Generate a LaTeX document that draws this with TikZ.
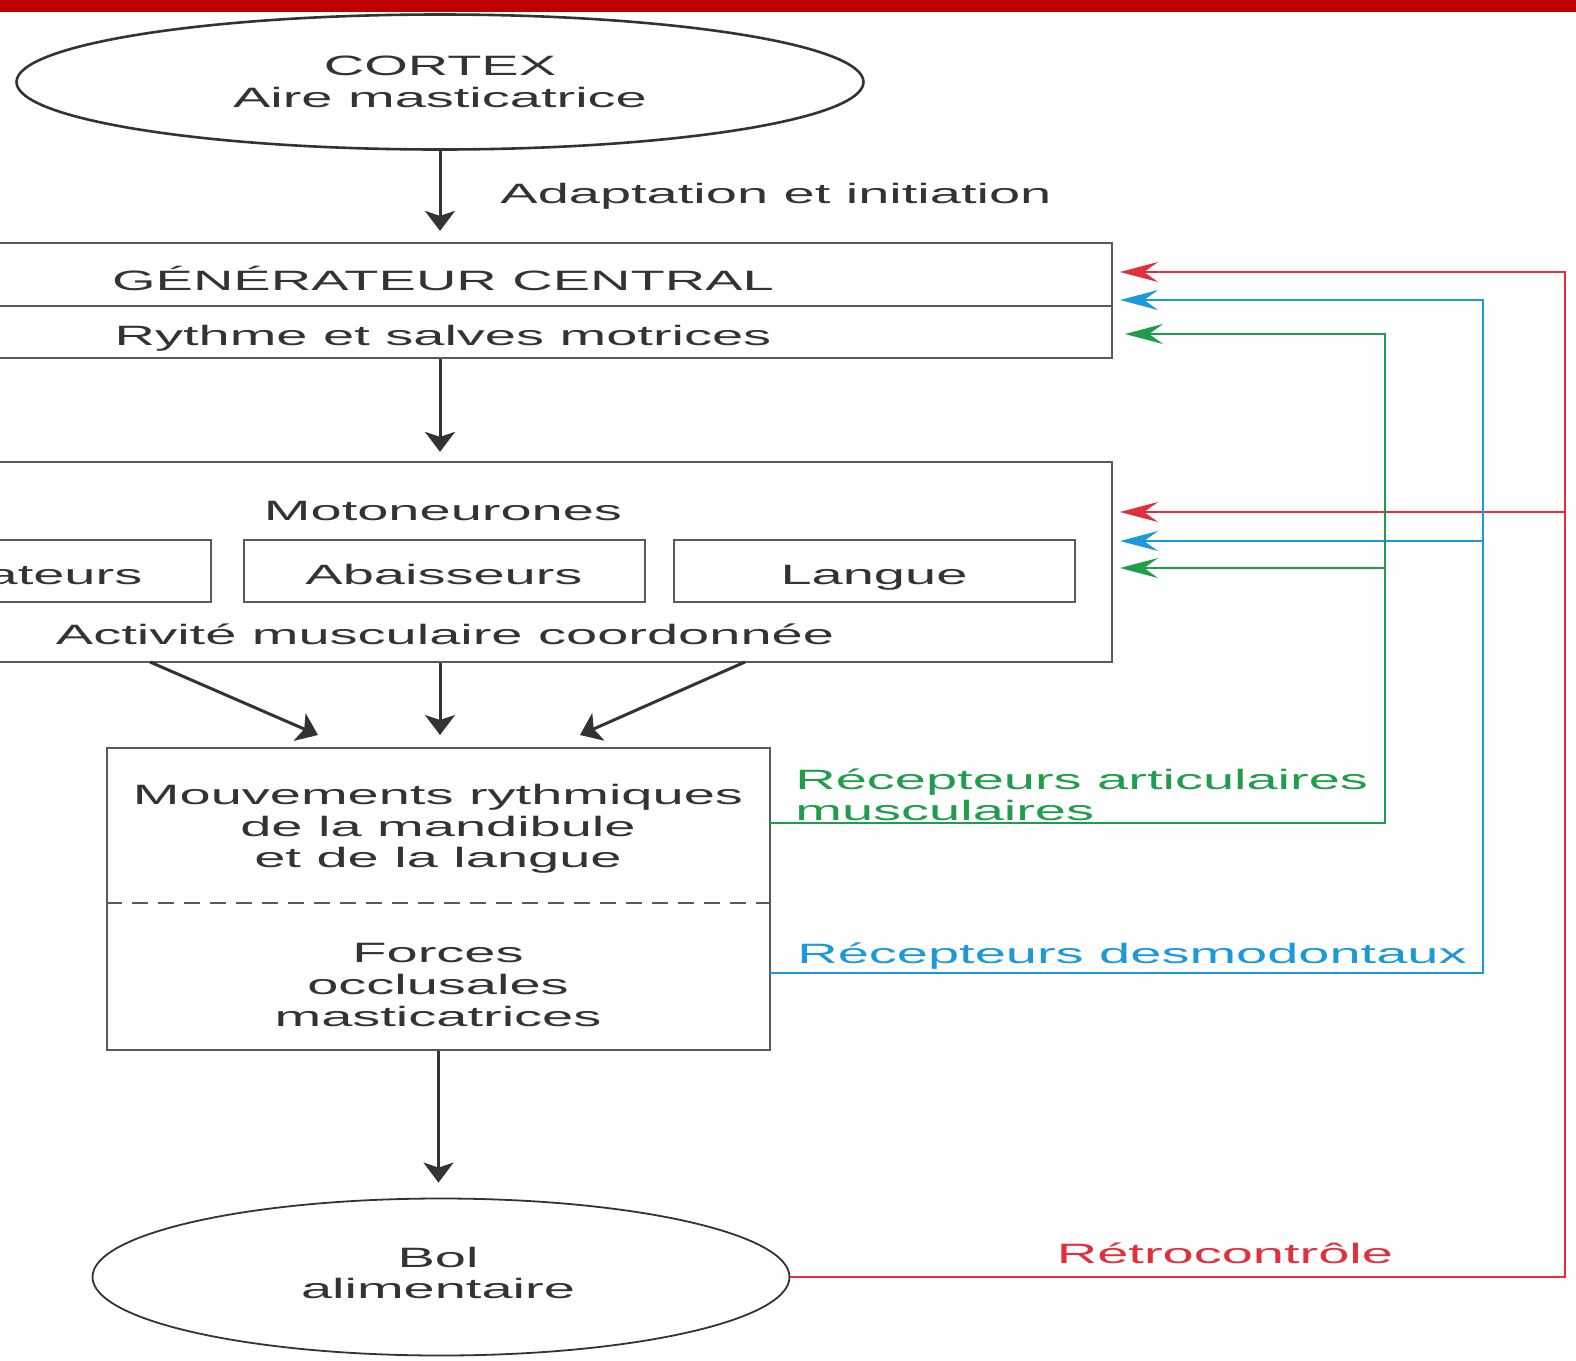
\documentclass[tikz,border=0pt]{standalone}
\usepackage{fontspec}
\setmainfont{Liberation Sans}[FakeStretch=2.0]
\usetikzlibrary{arrows.meta,shapes.geometric}

\definecolor{barred}{HTML}{C00000}
\definecolor{fbred}{HTML}{E0303C}
\definecolor{fbblue}{HTML}{1C9AD8}
\definecolor{fbgreen}{HTML}{1F9D4A}
\definecolor{ink}{HTML}{333333}
\definecolor{edge}{HTML}{5A5A5A}

\tikzset{
	txt/.style={font=\fontsize{14pt}{15.8pt}\selectfont, text=ink, align=center, inner sep=0pt},
	oneline/.style={txt, text height=13.5pt, text depth=0pt},
	box/.style={draw=edge, line width=1.1pt, inner sep=0pt},
	oval/.style={ellipse, draw=ink, inner sep=0pt},
	flow/.style={draw=ink, line width=1.5pt, -{Stealth[length=10pt,width=15pt,inset=2.5pt]}},
	fb/.style={line width=1.1pt, -{Stealth[length=19pt,width=10pt,inset=7pt]}},
}

\begin{document}
\begin{tikzpicture}[x=0.5pt,y=-0.5pt]
	%%%%% START %%%%%
	\useasboundingbox (0,0) rectangle (1576,1361);
	\clip (0,0) rectangle (1576,1361);
	\fill[barred] (0,0) rectangle (1576,12);
	
	\node[oval, txt, line width=1.3pt, minimum width=423.5pt, minimum height=67.5pt] (cortex) at (440,82) {CORTEX\\Aire masticatrice};
	\node[oneline, anchor=west] (adapt) at (500,190) {Adaptation et initiation};
	
	\node[box, minimum width=672pt, minimum height=57.5pt] (gen) at (440,300.5) {};
	\coordinate (genmid) at (0,306);
	\draw[edge, line width=1.1pt] (gen.west |- genmid) -- (gen.east |- genmid);
	\node[oneline] (gentitle) at (443,277) {GÉNÉRATEUR CENTRAL};
	\node[oneline] (genrythm) at (443,332) {Rythme et salves motrices};
	
	\draw[flow, shorten >=5.5pt] (cortex.south) -- (cortex.south |- gen.north);
	
	\node[box, minimum width=672pt, minimum height=100pt] (moto) at (440,562) {};
	\node[oneline] (motolbl) at (443,507) {Motoneurones};
	\node[box, oneline, line width=1pt, minimum width=200.5pt, minimum height=31pt] (elev) at (10,571) {Élévateurs};
	\node[box, oneline, line width=1pt, minimum width=200.5pt, minimum height=31pt] (abais) at (444,571) {Abaisseurs};
	\node[box, oneline, line width=1pt, minimum width=200.5pt, minimum height=31pt] (langue) at (874,571) {Langue};
	\node[oneline] (activ) at (445,631) {Activité musculaire coordonnée};
	
	\draw[flow, shorten >=4.5pt] (gen.south) -- (gen.south |- moto.north);
	
	\node[box, minimum width=331.5pt, minimum height=151pt] (mvt) at (438.5,899) {};
	\coordinate (mvtcut) at (0,903);
	\draw[edge, line width=1pt, dash pattern=on 8pt off 5pt] (mvt.west |- mvtcut) -- (mvt.east |- mvtcut);
	\node[txt] (mvttop) at (438,829) {Mouvements rythmiques\\de la mandibule\\et de la langue};
	\node[txt] (mvtbot) at (438,985) {Forces\\occlusales\\masticatrices};
	
	\coordinate (tailL) at (150,662);
	\coordinate (tipL) at (318,735);
	\coordinate (tipM) at (440,735);
	\coordinate (tailR) at (745,662);
	\coordinate (tipR) at (580,735);
	\draw[flow] (tailL) -- (tipL);
	\draw[flow] (moto.south) -- (tipM);
	\draw[flow] (tailR) -- (tipR);
	
	\node[oval, line width=0.9pt, minimum width=348.5pt, minimum height=78.5pt] (bol) at (441,1277) {};
	\node[txt] (boltxt) at (438,1273) {Bol\\alimentaire};
	
	\draw[flow, shorten >=7.5pt] (mvt.south) -- (mvt.south |- bol.north);
	
	% retour
	\coordinate (redX) at (1565,0);
	\coordinate (blueX) at (1483,0);
	\coordinate (greenX) at (1385,0);
	\coordinate (redIn1) at (1120,272);
	\coordinate (redIn2) at (1120,512);
	\coordinate (blueIn1) at (1120,300);
	\coordinate (blueIn2) at (1120,541);
	\coordinate (greenIn1) at (1125,334);
	\coordinate (greenIn2) at (1120,568);
	\coordinate (blueOut) at (770,973);
	\coordinate (greenOut) at (770,823);
	
	\draw[fb, fbred, line width=1pt] (bol.east) -- (redX |- bol.east) -- (redX |- redIn1) -- (redIn1);
	\draw[fb, fbred, line width=1pt] (redX |- redIn2) -- (redIn2);
	\draw[fb, fbblue, line width=1.4pt] (blueOut) -- (blueX |- blueOut) -- (blueX |- blueIn1) -- (blueIn1);
	\draw[fb, fbblue, line width=1.3pt] (blueX |- blueIn2) -- (blueIn2);
	\draw[fb, fbgreen, line width=1.2pt] (greenOut) -- (greenX |- greenOut) -- (greenX |- greenIn1) -- (greenIn1);
	\draw[fb, fbgreen, line width=1.2pt] (greenX |- greenIn2) -- (greenIn2);
	
	\node[txt, text=fbgreen, anchor=west, align=left] (artic) at (795,795) {Récepteurs articulaires\\musculaires};
	\node[oneline, text=fbblue, anchor=west] (desmo) at (797,950) {Récepteurs desmodontaux};
	\node[oneline, text=fbred] (retro) at (1225,1250) {Rétrocontrôle};
	%%%%% END %%%%%
\end{tikzpicture}
\end{document}
